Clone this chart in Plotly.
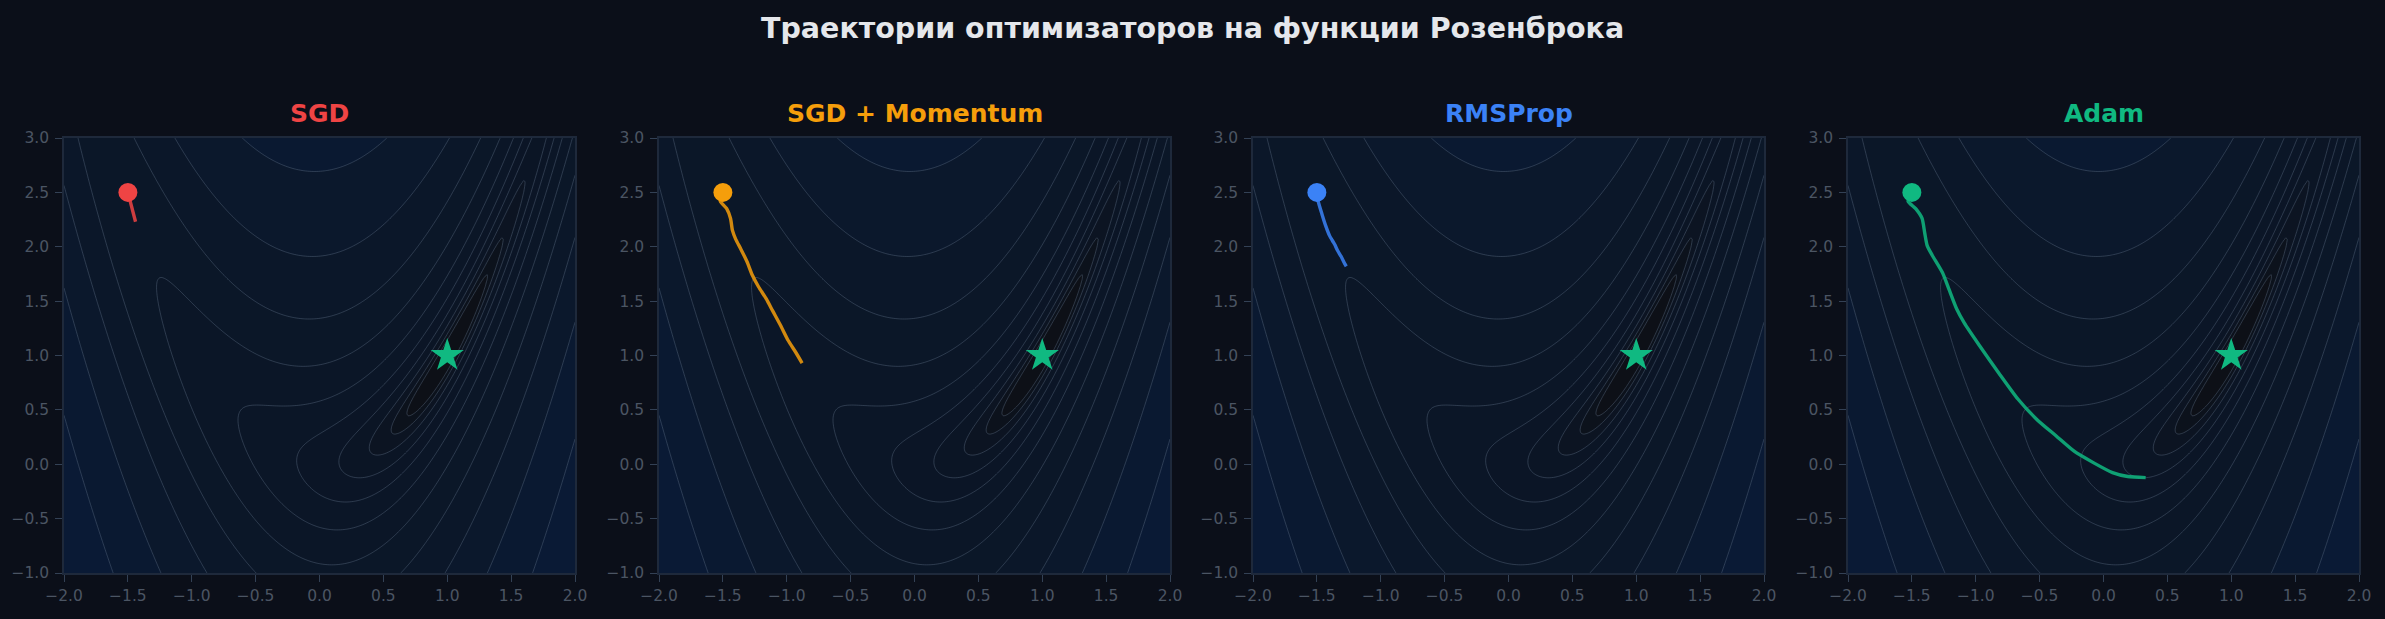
import numpy as np
import plotly.graph_objects as go

# ---------------- data ----------------
A_PARAM = 1.0
B_PARAM = 5.0
x_grid = np.linspace(-2.0, 2.0, 280)
y_grid = np.linspace(-1.0, 3.0, 280)
LOG_LEVEL_START = -1.0
LOG_LEVEL_END = 3.0
N_LEVELS = 15

optimizer_names = ["SGD", "SGD + Momentum", "RMSProp", "Adam"]
optimizer_colors = ["#ef4444", "#f59e0b", "#3b82f6", "#10b981"]

sgd_x = [-1.50, -1.48, -1.46, -1.44]
sgd_y = [2.50, 2.41, 2.32, 2.23]

momentum_x = [-1.50, -1.52, -1.47, -1.44, -1.425, -1.40, -1.36, -1.31, -1.27,
              -1.22, -1.16, -1.11, -1.05, -0.99, -0.93, -0.88]
momentum_y = [2.50, 2.42, 2.35, 2.26, 2.15, 2.07, 1.98, 1.86, 1.74,
              1.63, 1.52, 1.41, 1.28, 1.14, 1.03, 0.93]

rmsprop_x = [-1.50, -1.49, -1.46, -1.43, -1.40, -1.37, -1.36, -1.34, -1.31, -1.28, -1.27]
rmsprop_y = [2.50, 2.42, 2.30, 2.19, 2.10, 2.04, 2.02, 1.97, 1.91, 1.84, 1.82]

adam_x = [-1.50, -1.53, -1.47, -1.42, -1.40, -1.38, -1.34, -1.26, -1.21, -1.15, -1.09,
          -0.97, -0.82, -0.67, -0.52, -0.37, -0.23, -0.08, 0.07, 0.19, 0.33]
adam_y = [2.50, 2.42, 2.35, 2.26, 2.13, 2.01, 1.92, 1.76, 1.61, 1.43, 1.30,
          1.09, 0.84, 0.60, 0.41, 0.26, 0.12, 0.015, -0.077, -0.113, -0.123]

paths_x = [sgd_x, momentum_x, rmsprop_x, adam_x]
paths_y = [sgd_y, momentum_y, rmsprop_y, adam_y]

minimum_x = [1.0]
minimum_y = [1.0]

title_text = "Траектории оптимизаторов на функции Розенброка"

# ---------------- surface ----------------
XX, YY = np.meshgrid(x_grid, y_grid)
ZZ = (A_PARAM - XX) ** 2 + B_PARAM * (YY - XX ** 2) ** 2
LZ = np.log10(ZZ + 1e-12)
level_size = (LOG_LEVEL_END - LOG_LEVEL_START) / (N_LEVELS - 1)

W, H = 2385, 619
BG = "#0b0f19"
plot_px = [(64, 575), (659, 1170), (1253, 1764), (1848, 2359)]
top_px, bottom_px = 138, 573

fig = go.Figure()

fill_scale = [
    [0.0, "#0d1017"],
    [0.08, "#0c1320"],
    [0.2, "#0b1525"],
    [0.7, "#0b1729"],
    [1.0, "#0a1b37"],
]

for i in range(4):
    xa = "x" if i == 0 else f"x{i+1}"
    ya = "y" if i == 0 else f"y{i+1}"
    fig.add_trace(go.Contour(
        x=x_grid, y=y_grid, z=LZ,
        xaxis=xa, yaxis=ya,
        autocontour=False,
        contours=dict(start=LOG_LEVEL_START, end=LOG_LEVEL_END, size=level_size,
                      coloring="fill", showlines=True),
        colorscale=fill_scale, zmin=-1.2, zmax=2.3, zauto=False,
        line=dict(color="rgba(100,116,139,0.45)", width=0.9, smoothing=1.0),
        showscale=False, hoverinfo="skip",
    ))
    fig.add_trace(go.Scatter(
        x=paths_x[i], y=paths_y[i], xaxis=xa, yaxis=ya,
        mode="lines", line=dict(color=optimizer_colors[i], width=3.4, shape="spline", smoothing=0.6),
        opacity=0.85, showlegend=False, hoverinfo="skip",
    ))
    fig.add_trace(go.Scatter(
        x=paths_x[i][:1], y=paths_y[i][:1], xaxis=xa, yaxis=ya,
        mode="markers", marker=dict(color=optimizer_colors[i], size=19, line=dict(width=0)),
        showlegend=False, hoverinfo="skip",
    ))
    fig.add_trace(go.Scatter(
        x=minimum_x, y=minimum_y, xaxis=xa, yaxis=ya,
        mode="markers", marker=dict(color="#10b981", symbol="star", size=25, line=dict(width=0)),
        showlegend=False, hoverinfo="skip",
    ))

axis_common = dict(
    showgrid=False, zeroline=False, showline=True, linecolor="#1e293b", linewidth=1.5,
    mirror=True, ticks="outside", ticklen=7, tickwidth=1.4, tickcolor="#334155",
    tickfont=dict(family="DejaVu Sans", size=15.5, color="#4b5563"),
    dtick=0.5, tickformat=".1f", automargin=False,
)

layout_axes = {}
annotations = []
for i, (l, r) in enumerate(plot_px):
    xk = "xaxis" if i == 0 else f"xaxis{i+1}"
    yk = "yaxis" if i == 0 else f"yaxis{i+1}"
    ya = "y" if i == 0 else f"y{i+1}"
    xa = "x" if i == 0 else f"x{i+1}"
    layout_axes[xk] = dict(axis_common, domain=[l / W, r / W], range=[-2.0, 2.0], anchor=ya,
                           tick0=-2.0, ticklabelstandoff=1)
    layout_axes[yk] = dict(axis_common, domain=[1 - bottom_px / H, 1 - top_px / H], range=[-1.0, 3.0],
                           anchor=xa, tick0=-1.0, ticklabelstandoff=3)
    annotations.append(dict(
        text=f"<b>{optimizer_names[i]}</b>", x=(l + r) / 2 / W, y=1 - 113 / H,
        xref="paper", yref="paper", xanchor="center", yanchor="middle", showarrow=False,
        font=dict(family="DejaVu Sans", size=25, color=optimizer_colors[i]),
    ))

annotations.append(dict(
    text=f"<b>{title_text}</b>", x=0.5, y=1 - 28 / H, xref="paper", yref="paper",
    xanchor="center", yanchor="middle", showarrow=False,
    font=dict(family="DejaVu Sans", size=28.5, color="#e5e7eb"),
))

fig.update_layout(
    width=W, height=H, autosize=False,
    margin=dict(l=0, r=0, t=0, b=0, pad=0, autoexpand=False),
    paper_bgcolor=BG, plot_bgcolor=BG, showlegend=False,
    annotations=annotations, **layout_axes,
)

fig.write_html(
    "out.html",
    config={"displayModeBar": False, "responsive": False},
    post_script="document.body.style.margin='0';document.body.style.overflow='hidden';"
                "document.body.style.background='" + BG + "';",
)
